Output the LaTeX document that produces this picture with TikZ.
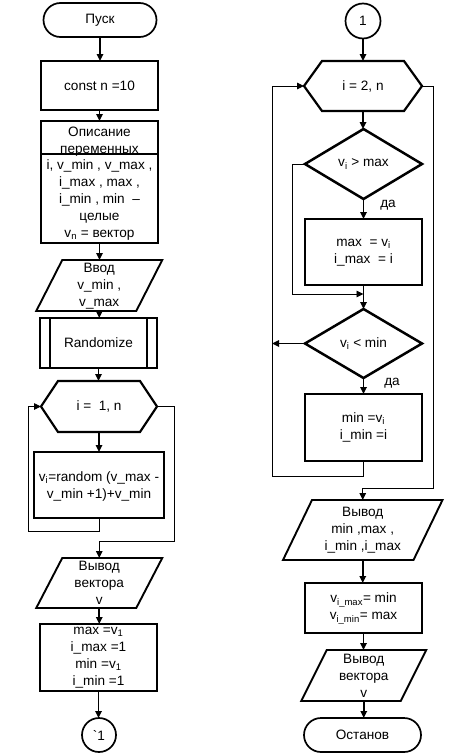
\documentclass[tikz,border=0pt]{standalone}
\usepackage{fontspec}
\setmainfont{Liberation Sans}
\usetikzlibrary{arrows.meta}
\tikzset{
  base/.style={inner sep=0pt, outer sep=0pt, align=center, font=\fontsize{13.6}{17}\selectfont},
  box/.style={base, draw, line width=2.8pt, minimum width=117pt},
  term/.style={base, draw, line width=1.7pt, rounded corners=17pt, minimum height=34pt},
  conn/.style={base, draw, circle, line width=1.7pt},
  hexline/.style={line width=2.2pt, line join=miter},
  diamline/.style={line width=2.5pt, line join=miter},
  paraline/.style={line width=1.9pt, line join=miter},
  flow/.style={line width=1.6pt, -{Triangle[length=7pt,width=6.5pt]}},
  thinflow/.style={line width=0.9pt, -{Triangle[length=7pt,width=6.5pt]}},
  thinline/.style={line width=0.9pt},
}
\begin{document}
\begin{tikzpicture}[x=1pt,y=-1pt]
\useasboundingbox (0,0) rectangle (462,755);
% ---------------- left column ----------------
\node[term, minimum width=113pt] (start) at (100,20) {Пуск};
\node[box, minimum height=49pt] (const) at (99.5,85.5) {const n =10};
\node[box, minimum height=122pt] (desc) at (99.5,182) {};
\node[base] (desch) at (99.5,141.5) {Описание\\переменных};
\draw[line width=2.8pt] ([yshift=-33pt]desc.north west) -- ([yshift=-33pt]desc.north east);
\node[base] (descb) at (99.5,199.5) {i, v\_min , v\_max ,\\i\_max , max ,\\i\_min , min \ –\\целые\\v\textsubscript{n} = вектор};
% input
\node[base, minimum width=100pt, minimum height=51pt] (input) at (99.25,285.5) {};
\node[base] (inputt) at (99.25,286) {Ввод\\v\_min ,\\v\_max};
\draw[paraline] ([xshift=13pt]input.north west) -- ([xshift=13pt]input.north east) -- ([xshift=-13pt]input.south east) -- ([xshift=-13pt]input.south west) -- cycle;
% randomize
\node[box, minimum height=50pt] (rand) at (98.5,343) {Randomize};
\draw[line width=2.8pt] ([xshift=10pt]rand.north west) -- ([xshift=10pt]rand.south west);
\draw[line width=2.8pt] ([xshift=-10pt]rand.north east) -- ([xshift=-10pt]rand.south east);
% loop hexagon
\node[base, minimum width=116pt, minimum height=51pt] (loop1) at (99,406.5) {i = \ 1, n};
\draw[hexline] ([xshift=17pt]loop1.north west) -- ([xshift=-17pt]loop1.north east) -- (loop1.east) -- ([xshift=-17pt]loop1.south east) -- ([xshift=17pt]loop1.south west) -- (loop1.west) -- cycle;
% body
\node[box, minimum width=130pt, minimum height=66pt] (body1) at (99,485) {};
\node[base] (body1t) at (99,486.5) {v\textsubscript{i}=random (v\_max -\\v\_min +1)+v\_min};
% output vector
\node[base, minimum width=100pt, minimum height=50pt] (out1) at (99.25,583) {};
\node[base] (out1t) at (99.25,583) {Вывод\\вектора\\v};
\draw[paraline] ([xshift=13pt]out1.north west) -- ([xshift=13pt]out1.north east) -- ([xshift=-13pt]out1.south east) -- ([xshift=-13pt]out1.south west) -- cycle;
% init
\node[box, minimum height=67pt] (init) at (98.5,657.5) {};
\node[base] (initt) at (98.5,657.5) {max =v\textsubscript{1}\\i\_max =1\\min =v\textsubscript{1}\\i\_min =1};
% connector
\node[conn, minimum size=34pt] (con1) at (99,735) {\textasciigrave 1};
% left connectors
\draw[flow] (start.south) -- (start.south |- const.north);
\draw[flow] (const.south) -- (const.south |- desc.north);
\draw[flow] (desc.south) -- (desc.south |- input.north);
\draw[flow] (input.south) -- (input.south |- rand.north);
\draw[flow] (rand.south) -- (rand.south |- loop1.north);
\draw[flow] (loop1.south) -- (loop1.south |- body1.north);
\coordinate (l1a) at (28,531);
\draw[thinflow] (body1.south) |- (l1a) |- (loop1.west);
\coordinate (e1) at (174,541);
\draw[thinflow] (loop1.east) -| (e1) -| (out1.north);
\draw[flow] (out1.south) -- (out1.south |- init.north);
\draw[flow] (init.south) -- (init.south |- con1.north);
% ---------------- right column ----------------
\node[conn, minimum size=35pt] (con2) at (363,21) {1};
\node[base, minimum width=118pt, minimum height=50pt] (loop2) at (363,86) {i = 2, n};
\draw[hexline] ([xshift=18pt]loop2.north west) -- ([xshift=-18pt]loop2.north east) -- (loop2.east) -- ([xshift=-18pt]loop2.south east) -- ([xshift=18pt]loop2.south west) -- (loop2.west) -- cycle;
\node[base, minimum width=117pt, minimum height=70pt] (d1) at (363.5,164) {v\textsubscript{i} > max};
\draw[diamline] (d1.north) -- (d1.east) -- (d1.south) -- (d1.west) -- cycle;
\node[base] (yes1) at (388,205) {да};
\node[box, minimum height=66pt] (maxb) at (363.5,252) {};
\node[base] (maxbt) at (363.5,252.5) {max \ = v\textsubscript{i}\\i\_max \ = i};
\node[base, minimum width=117pt, minimum height=69pt] (d2) at (363.5,343.5) {v\textsubscript{i} < min};
\draw[diamline] (d2.north) -- (d2.east) -- (d2.south) -- (d2.west) -- cycle;
\node[base] (yes2) at (392,383) {да};
\node[box, minimum height=67pt] (minb) at (363.5,427.5) {};
\node[base] (minbt) at (363.5,427) {min =v\textsubscript{i}\\i\_min =i};
\node[base, minimum width=130.5pt, minimum height=60pt] (out2) at (362.75,530) {};
\node[base] (out2t) at (362.75,530) {Вывод\\min ,max ,\\i\_min ,i\_max};
\draw[paraline] ([xshift=14.5pt]out2.north west) -- ([xshift=14.5pt]out2.north east) -- ([xshift=-14.5pt]out2.south east) -- ([xshift=-14.5pt]out2.south west) -- cycle;
\node[box, line width=2.3pt, minimum height=50pt] (swap) at (363.5,608) {};
\node[base] (swapt) at (363.5,608.5) {v\textsubscript{i\_max}= min\\v\textsubscript{i\_min}= max};
\node[base, minimum width=99.5pt, minimum height=51pt] (out3) at (363.75,675.5) {};
\node[base] (out3t) at (363.75,676) {Вывод\\вектора\\v};
\draw[paraline] ([xshift=12.75pt]out3.north west) -- ([xshift=12.75pt]out3.north east) -- ([xshift=-12.75pt]out3.south east) -- ([xshift=-12.75pt]out3.south west) -- cycle;
\node[term, minimum width=117pt] (stop) at (362.5,735) {Останов};
% right connectors
\draw[flow] (con2.south) -- (con2.south |- loop2.north);
\draw[flow] (loop2.south) -- (loop2.south |- d1.north);
\draw[flow] (d1.south) -- (d1.south |- maxb.north);
\coordinate (n1) at (292,294);
\draw[thinflow] (d1.west) -| (n1) -- (n1 -| maxb.south);
\draw[flow] (maxb.south) -- (maxb.south |- d2.north);
\coordinate (l2a) at (272,476);
\draw[flow] (d2.west) -- (d2.west -| l2a);
\draw[flow] (d2.south) -- (d2.south |- minb.north);
\draw[thinline] (minb.south) |- (l2a);
\draw[thinflow] (l2a) |- (loop2.west);
\coordinate (e2) at (433,488);
\draw[thinflow] (loop2.east) -| (e2) -| (out2.north);
\draw[flow] (out2.south) -- (out2.south |- swap.north);
\draw[flow] (swap.south) -- (swap.south |- out3.north);
\draw[flow] (out3.south) -- (out3.south |- stop.north);
\end{tikzpicture}
\end{document}
